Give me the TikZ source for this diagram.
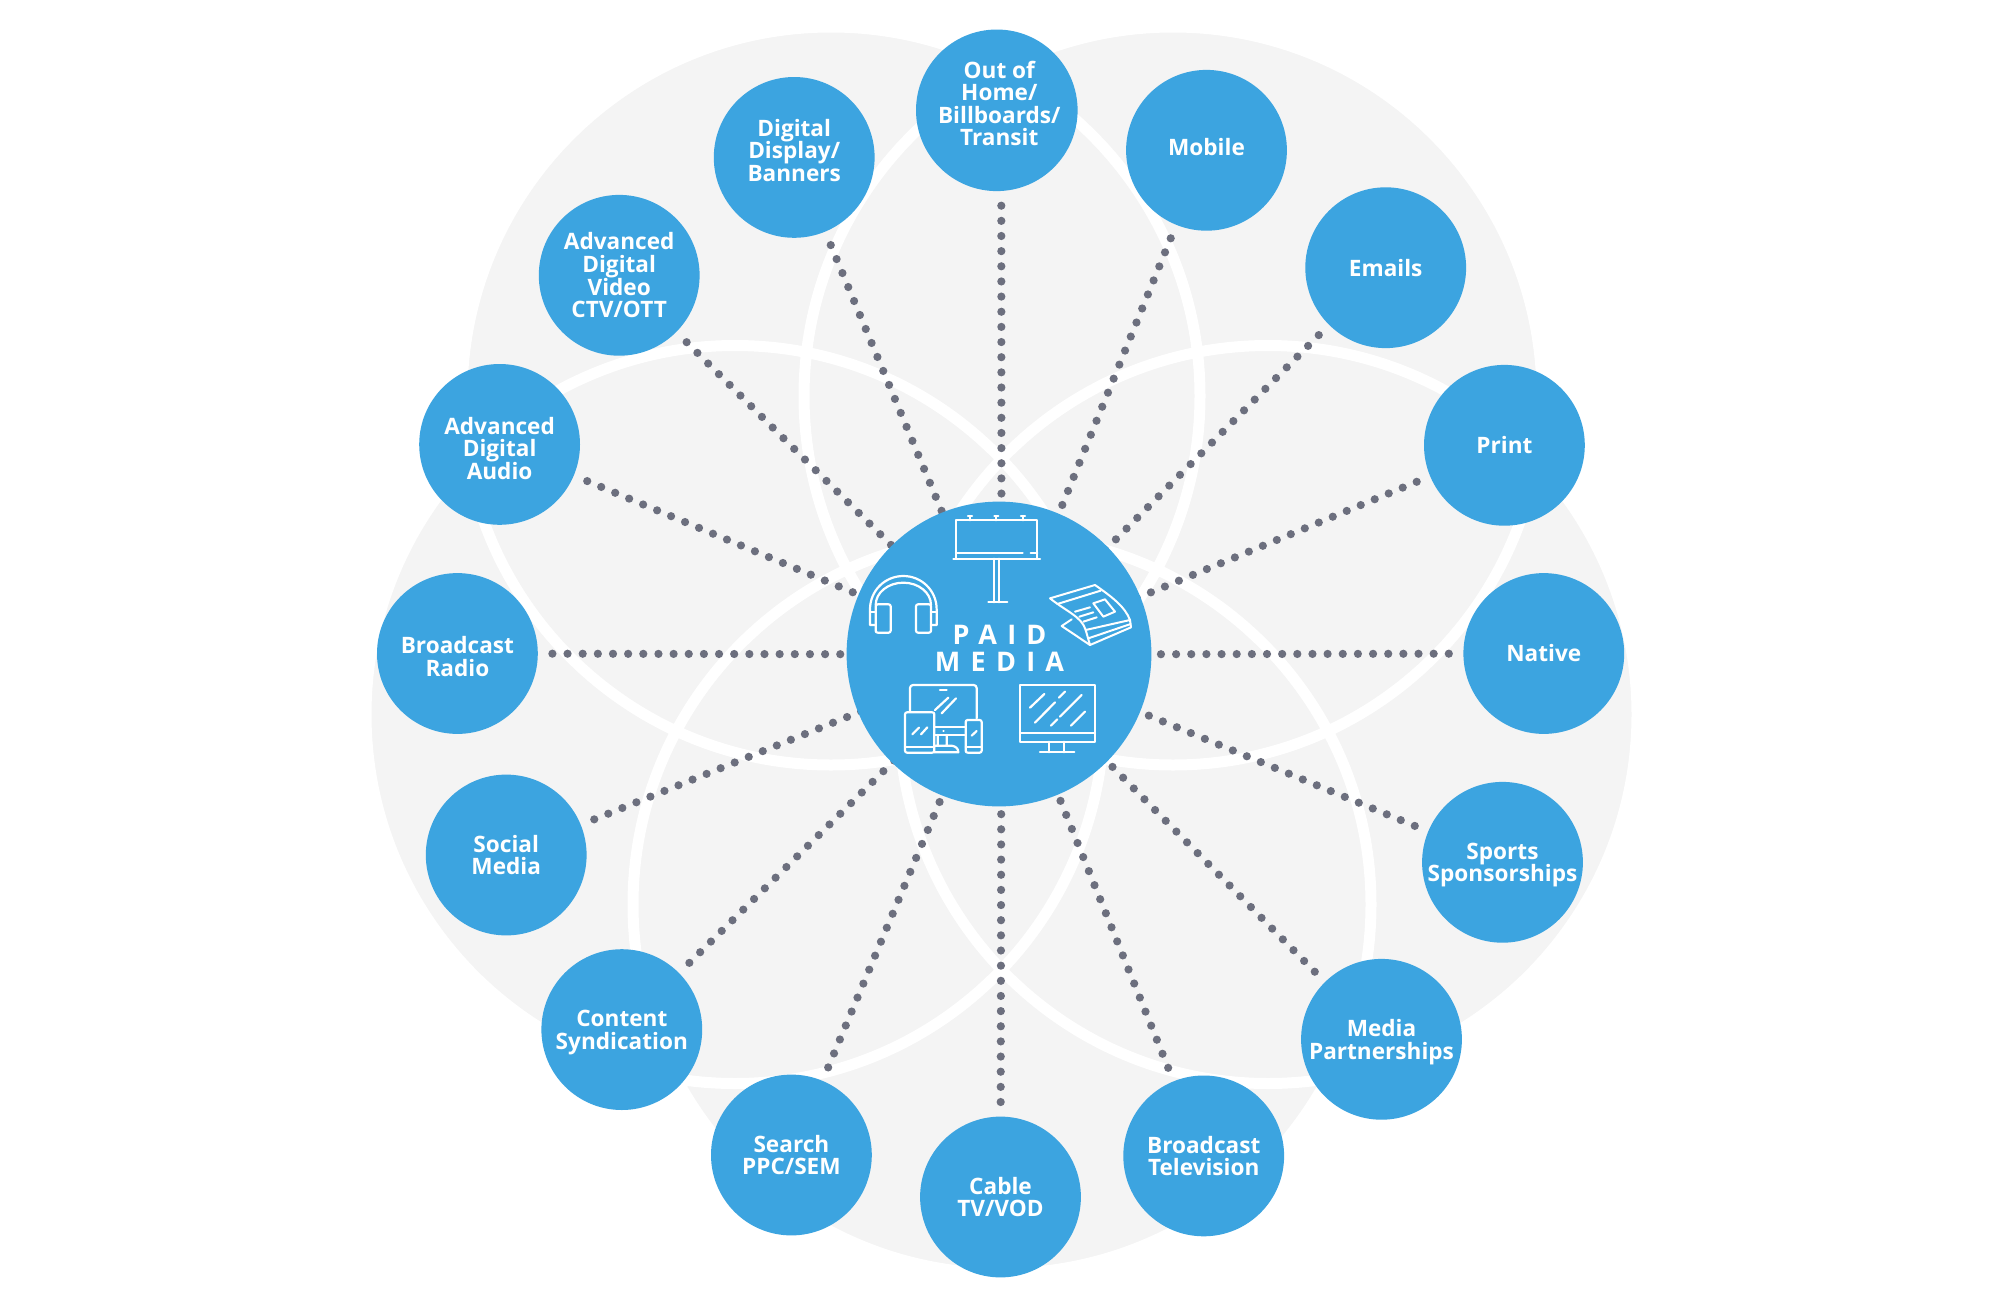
\documentclass[tikz,border=0pt]{standalone}
\usepackage{fontspec}
\setmainfont{Open Sans}
\usepackage{xcolor}
\usetikzlibrary{backgrounds}
\definecolor{spotblue}{HTML}{3CA4E0}
\definecolor{petalgrey}{HTML}{F4F4F4}
\definecolor{dotgrey}{HTML}{6C6F7E}

\begin{document}
\begin{tikzpicture}[
  x=1pt, y=-1pt,
  spot/.style={circle, fill=spotblue, inner sep=0pt, outer sep=0pt, minimum size=160.8pt, align=center, text=white, font=\fontsize{22.6}{22.6}\selectfont\bfseries},
  dots/.style={draw=dotgrey, line width=8.2pt, line cap=round, dash pattern=on 0pt off 15.15pt, shorten <=14.6pt},
  icon/.style={draw=white, line width=2.2pt, line cap=round, line join=round}
]
\useasboundingbox (0,0) rectangle (1998,1312);

% centre and the ring of media
\node[spot, minimum size=304.8pt] (hub) at (999,654) {};
\coordinate (hubc) at (1001.5,654.5);
\node[spot, font=\fontsize{27}{26.7}\selectfont\bfseries\addfontfeature{LetterSpace=38}] (title) at (999.5,648) {PAID\\MEDIA};

\node[spot] (ooh) at (996.8,110.3) {\hspace*{5pt}Out of\\\hspace*{5pt}Home/\\\hspace*{5pt}Billboards/\\\hspace*{5pt}Transit\\[-8.5pt]\mbox{}};
\node[spot] (mob) at (1206.5,150.3) {Mobile\\[-16.5pt]\mbox{}};
\node[spot] (ema) at (1385.7,267.7) {Emails};
\node[spot] (pri) at (1504.4,445.3) {Print};
\node[spot] (nat) at (1543.8,653.5) {Native};
\node[spot] (spo) at (1502.5,862.3) {Sports\\\smash{Sponsorships}};
\node[spot] (par) at (1381.5,1039.3) {Media\\\smash{Partnerships}};
\node[spot] (tel) at (1203.7,1155.9) {Broadcast\\Television};
\node[spot] (cab) at (1000.5,1197) {Cable\\TV/VOD};
\node[spot] (sea) at (791.4,1155) {Search\\PPC/SEM};
\node[spot] (syn) at (621.8,1029.6) {Content\\\smash{Syndication}};
\node[spot] (soc) at (506.2,855) {Social\\Media};
\node[spot] (rad) at (457.4,653.5) {Broadcast\\Radio\\[-28.6pt]\mbox{}};
\node[spot] (aud) at (499.6,444.4) {Advanced\\Digital\\Audio\\[-30.6pt]\mbox{}};
\node[spot] (vid) at (619.2,275.3) {Advanced\\Digital\\Video\\CTV/OTT};
\node[spot] (dis) at (794.2,157.4) {Digital\\Display/\\Banners\\[-8.5pt]\mbox{}};

\begin{pgfonlayer}{background}
\fill[white] (0,0) rectangle (1998,1312);
% five overlapping petals, white outlines over all the fills
\fill[petalgrey] (831,396) circle (369) (1173,396) circle (369) (735,714.5) circle (369) (1268,714.5) circle (369) (1002,904.5) circle (369);
\draw[white, line width=11pt] (831,396) circle (369) (1173,396) circle (369) (735,714.5) circle (369) (1268,714.5) circle (369) (1002,904.5) circle (369);

\draw[dots] ([xshift=4.5pt]ooh.south) -- (hubc);
\draw[dots] (mob) -- (hubc);
\draw[dots] (ema) -- (hubc);
\draw[dots] (pri) -- (hubc);
\draw[dots] (nat) -- (hubc);
\draw[dots] (spo) -- (hubc);
\draw[dots] (par) -- (hubc);
\draw[dots] (tel) -- (hubc);
\draw[dots] (cab) -- (hubc);
\draw[dots] (sea) -- (hubc);
\draw[dots] (syn) -- (hubc);
\draw[dots] (soc) -- (hubc);
\draw[dots] (rad) -- (hubc);
\draw[dots] (aud) -- (hubc);
\draw[dots] (vid) -- (hubc);
\draw[dots] (dis) -- (hubc);
\end{pgfonlayer}

% billboard
\begin{scope}[shift={(945,510)}, scale=1/3]
\draw[icon] (33,146) -- (33,31) -- (277,31) -- (277,146);
\draw[icon] (25,146) -- (285,146);
\draw[icon] (33,128) -- (233,128) (257,128) -- (277,128);
\draw[icon] (146,146) -- (146,277) (162,146) -- (162,277) (130,277) -- (187,277);
\draw[icon] (75,18) -- (75,31) (154,18) -- (154,31) (234,18) -- (234,31);
\draw[icon] (69,18) -- (81,18) (148,18) -- (160,18) (228,18) -- (240,18);
\end{scope}

% headphones
\begin{scope}[shift={(860,510)}, scale=1/3]
\draw[icon] (47,345) -- (30,345) -- (30,298) .. controls (30,242) and (75,198) .. (130,198) .. controls (185,198) and (230,242) .. (230,298) -- (230,345) -- (213,345);
\draw[icon] (47,285) .. controls (47,248) and (84,218) .. (130,218) .. controls (176,218) and (213,248) .. (213,285);
\draw[icon] (30,305) -- (47,305) (230,305) -- (213,305);
\draw[icon, rounded corners=2pt] (47,283) rectangle (92,368);
\draw[icon, rounded corners=2pt] (168,283) rectangle (213,368);
\end{scope}

% newspaper
\begin{scope}[shift={(1040,570)}, scale=1/3]
\draw[icon, line width=2pt] (137,180) .. controls (125,140) and (80,125) .. (30,85) -- (165,45) .. controls (215,80) and (255,110) .. (270,150) -- (273,172) -- (150,225) -- (137,180);
\draw[icon, line width=2pt] (52,102) -- (182,62);
\draw[icon, line width=2pt] (137,180) -- (270,150) (145,205) -- (272,162);
\draw[icon, line width=2pt] (95,148) -- (65,168) -- (150,225);
\draw[icon, line width=2pt] (160,100) -- (195,88) -- (225,125) -- (190,140) -- cycle;
\draw[icon, line width=2pt] (105,125) -- (150,112) (118,140) -- (160,127) (130,155) -- (170,142);
\end{scope}

% devices
\begin{scope}[shift={(895,675)}, scale=1/3]
\draw[icon, rounded corners=3pt] (45,108) -- (45,30) -- (245,30) -- (245,130);
\draw[icon] (135,45) -- (155,45);
\draw[icon] (120,105) -- (160,68) (140,115) -- (183,70);
\draw[icon, rounded corners=2pt] (30,112) rectangle (118,233);
\draw[icon] (30,215) -- (118,215);
\draw[icon] (52,178) -- (72,158) (78,178) -- (97,157);
\draw[icon] (118,155) -- (212,155) (118,180) -- (212,180);
\draw[icon] (145,168) -- (146,168);
\draw[icon] (128,180) -- (128,212) (155,180) -- (155,212) (118,212) -- (170,212) .. controls (182,214) and (190,220) .. (190,232) -- (118,232);
\draw[icon, rounded corners=2pt] (212,135) rectangle (260,233);
\draw[icon] (212,215) -- (260,215);
\draw[icon] (230,182) -- (245,168);
\end{scope}

% screen
\begin{scope}[shift={(1010,675)}, scale=1/3]
\draw[icon, line cap=butt] (30,30) rectangle (255,200);
\draw[icon] (30,175) -- (255,175);
\draw[icon] (117,200) -- (117,232) (162,200) -- (162,232) (90,232) -- (193,232);
\draw[icon] (60,98) -- (103,57) (75,143) -- (135,82) (147,68) -- (165,50);
\draw[icon] (150,125) -- (215,60) (123,152) -- (142,133) (183,152) -- (225,110);
\end{scope}
\end{tikzpicture}
\end{document}
